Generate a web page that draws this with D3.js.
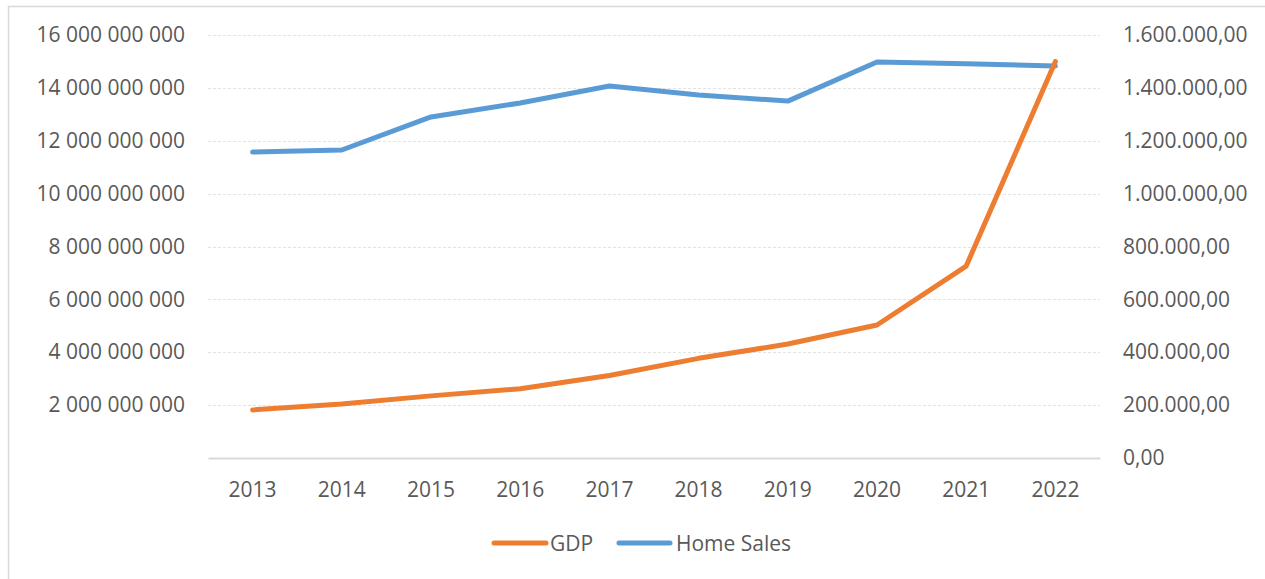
<!DOCTYPE html>
<html>
<head>
<meta charset="utf-8">
<script src="https://cdn.jsdelivr.net/npm/d3@7"></script>
<style>
  html, body { margin: 0; padding: 0; background: #fff; }
  svg { display: block; }
  text { font-family: "Open Sans", sans-serif; fill: #595959; }
</style>
</head>
<body>
<svg id="chart" width="1265" height="579"></svg>
<script>
const years = ["2013","2014","2015","2016","2017","2018","2019","2020","2021","2022"];
const gdp = [1.82e9, 2.04e9, 2.35e9, 2.62e9, 3.12e9, 3.77e9, 4.31e9, 5.03e9, 7.26e9, 15.0e9];
const homeSales = [1157000, 1165000, 1290000, 1343000, 1407000, 1373000, 1350000, 1498000, 1491000, 1483000];
const leftTicks = [2e9, 4e9, 6e9, 8e9, 10e9, 12e9, 14e9, 16e9];
const rightTicks = [0, 200000, 400000, 600000, 800000, 1000000, 1200000, 1400000, 1600000];
const seriesNames = ["GDP", "Home Sales"];
const colors = ["#ED7D31", "#5B9BD5"];

const svg = d3.select("#chart");
const W = 1265, H = 579;
const plot = {left: 208, right: 1100, top: 35, bottom: 458};
const FS = "21px";

// outer border
svg.append("rect").attr("x", 8.5).attr("y", 6.5).attr("width", W).attr("height", H)
  .attr("fill", "none").attr("stroke", "#d9d9d9").attr("stroke-width", 1.5);

const x = d3.scaleBand().domain(years).range([plot.left, plot.right]);
const yL = d3.scaleLinear().domain([0, 16e9]).range([plot.bottom, plot.top]);
const yR = d3.scaleLinear().domain([0, 1600000]).range([plot.bottom, plot.top]);

const locL = d3.formatLocale({decimal: ",", thousands: "\u00a0", grouping: [3], currency: ["", ""]});
const locR = d3.formatLocale({decimal: ",", thousands: ".", grouping: [3], currency: ["", ""]});
const fmtL = locL.format(",.0f");
const fmtR = locR.format(",.2f");

// gridlines
svg.append("g").selectAll("line").data(leftTicks).join("line")
  .attr("x1", plot.left).attr("x2", plot.right)
  .attr("y1", d => Math.round(yL(d)) + 0.5).attr("y2", d => Math.round(yL(d)) + 0.5)
  .attr("stroke", "#e3e3e3").attr("stroke-width", 1).attr("stroke-dasharray", "3,2");

// left axis
const axL = svg.append("g").attr("transform", `translate(${plot.left},0)`)
  .call(d3.axisLeft(yL).tickValues(leftTicks).tickFormat(d => fmtL(d).replace(/\u00a0/g, " ")).tickSize(0).tickPadding(23));
axL.select(".domain").remove();
axL.selectAll("text").attr("font-size", FS).attr("fill", "#595959").attr("font-family", "'Open Sans', sans-serif");

// right axis
const axR = svg.append("g").attr("transform", `translate(${plot.right},0)`)
  .call(d3.axisRight(yR).tickValues(rightTicks).tickFormat(fmtR).tickSize(0).tickPadding(23));
axR.select(".domain").remove();
axR.selectAll("text").attr("font-size", FS).attr("fill", "#595959").attr("font-family", "'Open Sans', sans-serif");

// bottom axis
const axB = svg.append("g").attr("transform", `translate(0,${plot.bottom})`)
  .call(d3.axisBottom(x).tickSize(0).tickPadding(24));
axB.select(".domain").attr("stroke", "#d9d9d9").attr("stroke-width", 2);
axB.selectAll("text").attr("font-size", FS).attr("fill", "#595959").attr("font-family", "'Open Sans', sans-serif");

// lines
const cx = d => x(d) + x.bandwidth() / 2;
const lineL = d3.line().x((d, i) => cx(years[i])).y(d => yL(d));
const lineR = d3.line().x((d, i) => cx(years[i])).y(d => yR(d));

svg.append("path").datum(homeSales).attr("d", lineR)
  .attr("fill", "none").attr("stroke", colors[1]).attr("stroke-width", 5)
  .attr("stroke-linecap", "round").attr("stroke-linejoin", "round");
svg.append("path").datum(gdp).attr("d", lineL)
  .attr("fill", "none").attr("stroke", colors[0]).attr("stroke-width", 5)
  .attr("stroke-linecap", "round").attr("stroke-linejoin", "round");

// legend
const legend = svg.append("g");
const legItems = [{x1: 494, x2: 546, tx: 550}, {x1: 619, x2: 670, tx: 676}];
seriesNames.forEach((name, i) => {
  legend.append("line").attr("x1", legItems[i].x1).attr("x2", legItems[i].x2)
    .attr("y1", 543).attr("y2", 543)
    .attr("stroke", colors[i]).attr("stroke-width", 5).attr("stroke-linecap", "round");
  legend.append("text").attr("x", legItems[i].tx).attr("y", 551)
    .attr("font-size", FS).text(name);
});
</script>
</body>
</html>
